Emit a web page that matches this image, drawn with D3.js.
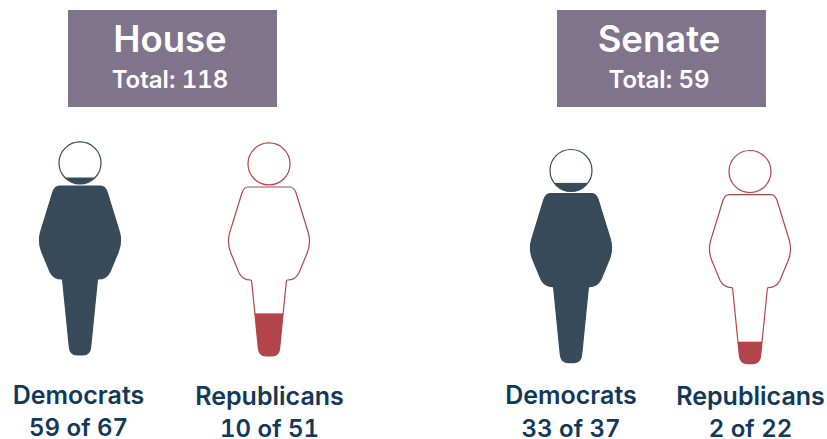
<!DOCTYPE html>
<html>
<head>
<meta charset="utf-8">
<script src="https://cdn.jsdelivr.net/npm/d3@7/dist/d3.min.js"></script>
<style>
html,body{margin:0;padding:0;background:#fff}
svg{display:block}
text{font-family:Inter,"Liberation Sans",sans-serif;text-anchor:middle;font-feature-settings:"tnum" 1;font-variant-numeric:tabular-nums}
</style>
</head>
<body>
<script>
// Seats held by each party per chamber
const chambers = ["House", "Senate"];
const chamberTotals = [118, 59];
const parties = ["Democrats", "Republicans", "Democrats", "Republicans"];
const seatsWon = [59, 10, 33, 2];
const seatsHeld = [67, 51, 37, 22];

// Page layout
const width = 827, height = 439;
const boxX = [68, 557], boxY = 10, boxW = 209, boxH = 97;
const figureX = [80, 269, 571, 750];
const figureTop = [141.7, 142.7, 149.3, 150.3];
const labelX = [78.5, 269.5, 571, 750.5];
const labelY = [[404, 436], [405, 437], [404, 437], [405, 437]];
const partyColors = {Democrats: "#374a59", Republicans: "#b2444a"};

// Person silhouette, with x measured from the centre line and y from the top of the head
const headR = 21, headCy = 21.2;
const bodyPath = "M-20.7,44.3 L20.7,44.3 Q25,44.3 27,50 L39.3,90 Q42.2,100 38.3,110 L30,130 Q26.5,137.3 18.3,137.3 Q17.5,137.3 17.3,139 L10.7,205 Q10,213.3 3,213.3 L-3,213.3 Q-10,213.3 -10.7,205 L-17.3,139 Q-17.5,137.3 -18.3,137.3 Q-26.5,137.3 -30,130 L-38.3,110 Q-42.2,100 -39.3,90 L-27,50 Q-25,44.3 -20.7,44.3 Z";

// Fill level inside a figure, from share of seats to a local y position
const fillY = d3.scaleLinear().domain([0, 1]).range([209.3, 12.3]);

const svg = d3.select("body").append("svg").attr("width", width).attr("height", height);
const defs = svg.append("defs");

// Chamber title boxes
const boxes = svg.selectAll("g.box").data(chambers).join("g").attr("class", "box")
  .attr("transform", (d, i) => `translate(${boxX[i]},${boxY})`);
boxes.append("rect").attr("width", boxW).attr("height", boxH).attr("fill", "#80748c");
boxes.append("text").attr("x", boxW / 2 - 2.5).attr("y", 42)
  .attr("fill", "#fff").attr("font-size", 36.5).attr("font-weight", 600)
  .text(d => d);
boxes.append("text").attr("x", boxW / 2 - 2.5).attr("y", 77.5)
  .attr("fill", "#fff").attr("font-size", 24).attr("font-weight", 600)
  .text((d, i) => `Total: ${chamberTotals[i]}`);

// One filled silhouette per party and chamber
const figures = svg.selectAll("g.figure").data(parties).join("g").attr("class", "figure")
  .attr("transform", (d, i) => `translate(${figureX[i]},${figureTop[i]})`);

figures.each(function (party, i) {
  const g = d3.select(this);
  const color = partyColors[party];
  const clip = defs.append("clipPath").attr("id", `person-${i}`);
  clip.append("circle").attr("cy", headCy).attr("r", headR);
  clip.append("path").attr("d", bodyPath);

  const top = fillY(seatsWon[i] / seatsHeld[i]);
  g.append("rect")
    .attr("x", -50).attr("width", 100)
    .attr("y", top).attr("height", 230 - top)
    .attr("fill", color)
    .attr("clip-path", `url(#person-${i})`);
  g.append("circle").attr("cy", headCy).attr("r", headR)
    .attr("fill", "none").attr("stroke", color).attr("stroke-width", 1.2);
  g.append("path").attr("d", bodyPath)
    .attr("fill", "none").attr("stroke", color).attr("stroke-width", 1.2);
});

// Party names and seat counts
const labels = svg.selectAll("g.label").data(parties).join("g").attr("class", "label");
labels.append("text")
  .attr("x", (d, i) => labelX[i]).attr("y", (d, i) => labelY[i][0])
  .attr("fill", "#12385a").attr("font-size", 25).attr("font-weight", 600)
  .text(d => d);
labels.append("text")
  .attr("x", (d, i) => labelX[i]).attr("y", (d, i) => labelY[i][1])
  .attr("fill", "#12385a").attr("font-size", 24).attr("font-weight", 600)
  .text((d, i) => `${seatsWon[i]} of ${seatsHeld[i]}`);
</script>
</body>
</html>
